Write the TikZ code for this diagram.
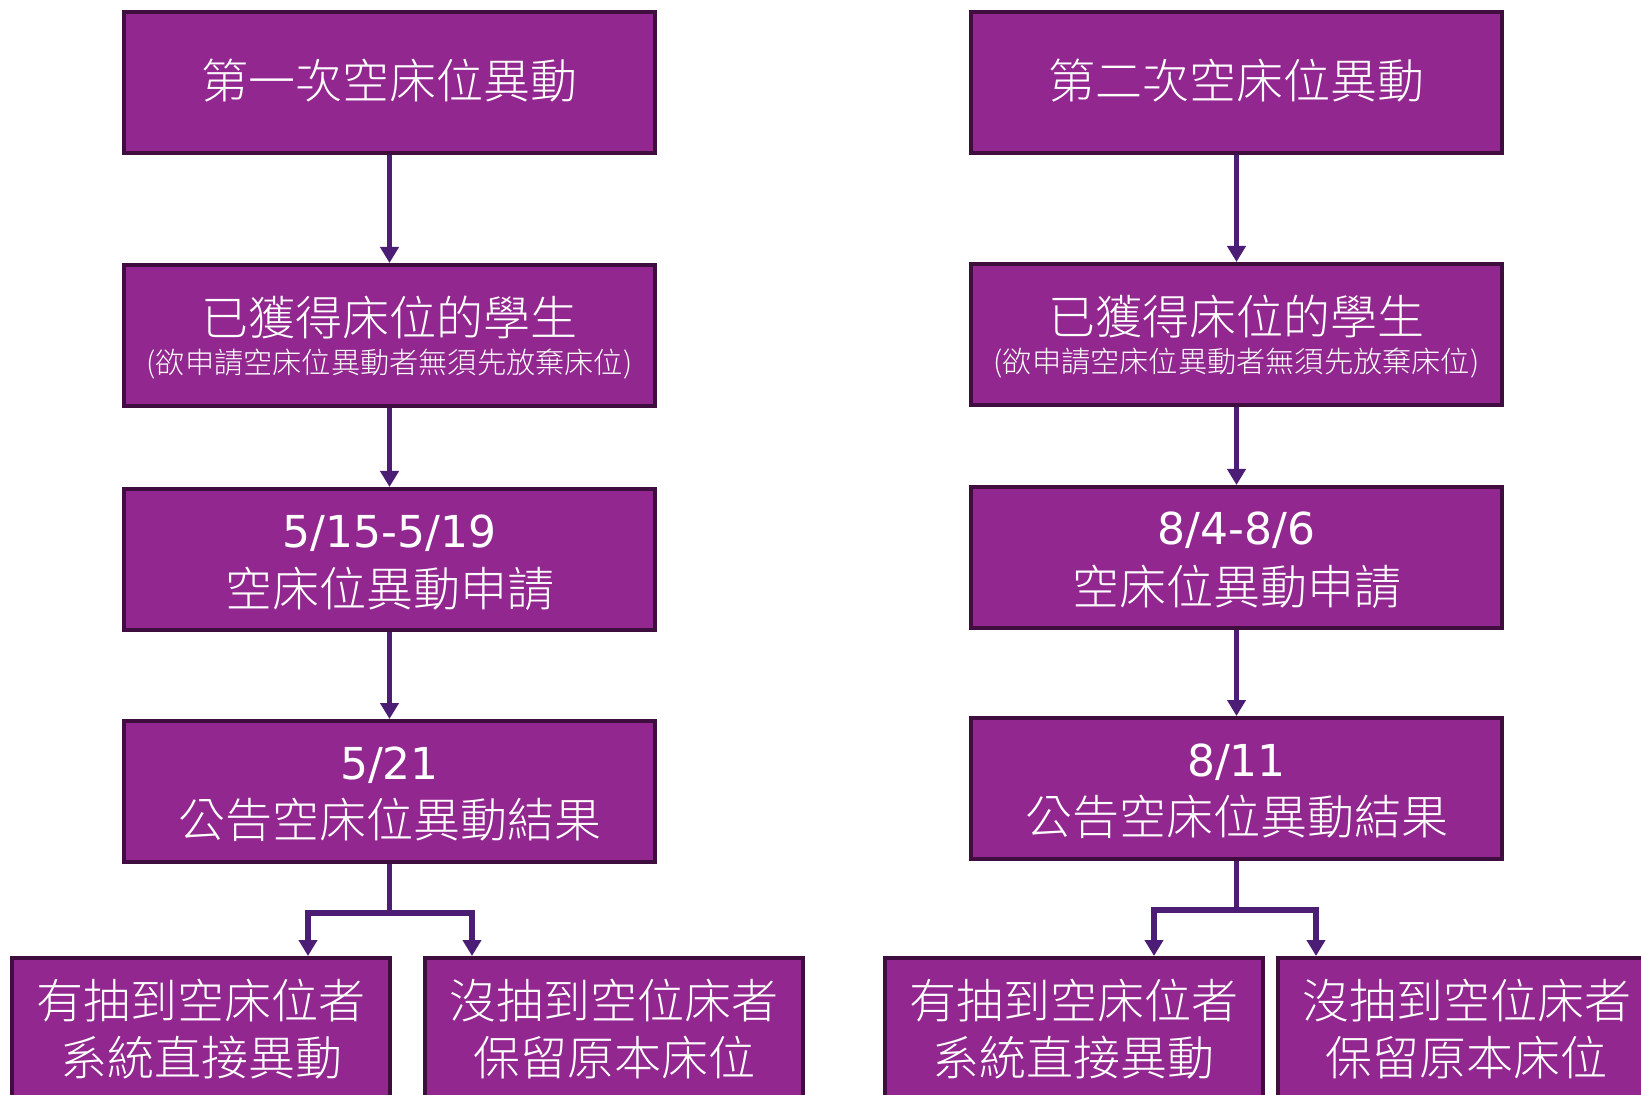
\documentclass[tikz,border=0pt]{standalone}
\usepackage{fontspec}
\setmainfont{Noto Sans CJK TC Light}
\newfontfamily\cjk{Noto Sans CJK TC Light}
\newfontfamily\digitfont{DejaVu Sans}
\usetikzlibrary{arrows.meta}
\definecolor{boxfill}{HTML}{92278F}
\definecolor{boxline}{HTML}{3F0E3F}
\definecolor{arrowcol}{HTML}{4B1D74}
\tikzset{
  x=0.5pt, y=-0.5pt,
  stepbox/.style={draw=boxline, line width=2pt, fill=boxfill,
    minimum width=265.5pt, minimum height=70.5pt, inner sep=0pt},
  smallbox/.style={stepbox, minimum width=189pt},
  bigtxt/.style={text=white, inner sep=0pt, anchor=base, font=\cjk\fontsize{23.5pt}{28pt}\selectfont},
  subtxt/.style={text=white, inner sep=0pt, anchor=base, font=\cjk\fontsize{14.6pt}{17pt}\selectfont},
  datetxt/.style={text=white, inner sep=0pt, anchor=base, font=\digitfont\fontsize{22pt}{26pt}\selectfont},
  flow/.style={draw=arrowcol, line width=2.3pt, -{Triangle[length=8pt,width=9pt]}},
  branch/.style={draw=arrowcol, line width=2.8pt},
}
\begin{document}
\begin{tikzpicture}
\useasboundingbox (0,0) rectangle (1641,1095);
\clip (0,0) rectangle (1641,1095);
% ---------------- left column ----------------
\node[stepbox] (l1) at (389.5,82.5) {};
\node[bigtxt] (l1a) at (389.5,99) {第一次空床位異動};
\node[stepbox] (l2) at (389.5,335.5) {};
\node[bigtxt] (l2a) at (389.5,336) {已獲得床位的學生};
\node[subtxt] (l2b) at (389.5,374) {(欲申請空床位異動者無須先放棄床位)};
\node[stepbox] (l3) at (389.5,559.5) {};
\node[datetxt] (l3a) at (389.5,547) {5/15-5/19};
\node[bigtxt] (l3b) at (389.5,606) {空床位異動申請};
\node[stepbox] (l4) at (389.5,791.5) {};
\node[datetxt] (l4a) at (389.5,779) {5/21};
\node[bigtxt] (l4b) at (389.5,837) {公告空床位異動結果};
\node[smallbox] (l5) at (201,1028.5) {};
\node[bigtxt] (l5a) at (201,1018) {有抽到空床位者};
\node[bigtxt] (l5b) at (201,1075) {系統直接異動};
\node[smallbox] (l6) at (614,1028.5) {};
\node[bigtxt] (l6a) at (614,1018) {沒抽到空位床者};
\node[bigtxt] (l6b) at (614,1075) {保留原本床位};
% ---------------- right column ----------------
\node[stepbox] (r1) at (1236.5,82.5) {};
\node[bigtxt] (r1a) at (1236.5,99) {第二次空床位異動};
\node[stepbox] (r2) at (1236.5,334.5) {};
\node[bigtxt] (r2a) at (1236.5,335) {已獲得床位的學生};
\node[subtxt] (r2b) at (1236.5,373) {(欲申請空床位異動者無須先放棄床位)};
\node[stepbox] (r3) at (1236.5,557.5) {};
\node[datetxt] (r3a) at (1236.5,545) {8/4-8/6};
\node[bigtxt] (r3b) at (1236.5,604) {空床位異動申請};
\node[stepbox] (r4) at (1236.5,788.5) {};
\node[datetxt] (r4a) at (1236.5,776) {8/11};
\node[bigtxt] (r4b) at (1236.5,834) {公告空床位異動結果};
\node[smallbox] (r5) at (1073.5,1028.5) {};
\node[bigtxt] (r5a) at (1073.5,1018) {有抽到空床位者};
\node[bigtxt] (r5b) at (1073.5,1075) {系統直接異動};
\node[smallbox] (r6) at (1466.5,1028.5) {};
\node[bigtxt] (r6a) at (1466.5,1018) {沒抽到空位床者};
\node[bigtxt] (r6b) at (1466.5,1075) {保留原本床位};
% ---------------- connectors ----------------
\draw[flow] (l1) -- (l2);
\draw[flow] (l2) -- (l3);
\draw[flow] (l3) -- (l4);
\draw[flow] (r1) -- (r2);
\draw[flow] (r2) -- (r3);
\draw[flow] (r3) -- (r4);
\coordinate (lj) at (389.5,913);
\coordinate (rj) at (1236.5,910);
\coordinate (lx5) at (308,0);
\coordinate (lx6) at (472,0);
\coordinate (rx5) at (1154,0);
\coordinate (rx6) at (1316,0);
\draw[branch] (l4.south) -- (lj);
\draw[branch] (r4.south) -- (rj);
\draw[flow, line width=2.8pt] (lj) -| (lx5 |- l5.north);
\draw[flow, line width=2.8pt] (lj) -| (lx6 |- l6.north);
\draw[flow, line width=2.8pt] (rj) -| (rx5 |- r5.north);
\draw[flow, line width=2.8pt] (rj) -| (rx6 |- r6.north);
\end{tikzpicture}
\end{document}
